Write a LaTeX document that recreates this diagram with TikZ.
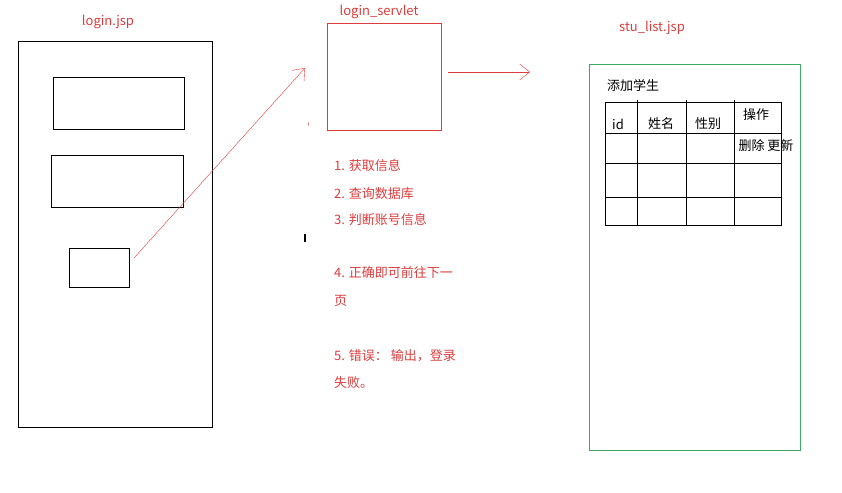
\documentclass[tikz,border=0pt]{standalone}
\usepackage{fontspec}
\setmainfont{Noto Sans CJK SC}
\usetikzlibrary{positioning,arrows.meta}
\definecolor{penred}{RGB}{220,60,60}
\definecolor{pengreen}{RGB}{60,170,100}
\begin{document}
\begin{tikzpicture}[
	x=1pt,y=-1pt,
	lbl/.style={text=penred,font=\fontsize{13}{15}\selectfont},
	stepline/.style={lbl,anchor=west,inner sep=0},
	barb/.style={penred,-{Straight Barb[length=10pt,width=16pt]}},
	cell/.style={font=\fontsize{13}{15}\selectfont,inner sep=0}
]
	\useasboundingbox (0,0) rectangle (842,492);
	% login page
	\draw (18,41) rectangle (212,427);
	\draw (53,77) rectangle (184,129);
	\draw (51,155) rectangle (183,207);
	\draw (69,248) rectangle (129,287);
	\node[lbl] (loginjsp) at (108,22) {login.jsp};
	\coordinate (btn) at (134,258);
	\coordinate (up) at (305,68);
	\draw[barb] (btn) -- (up);

	% servlet
	\node[lbl] (servletlbl) at (379,12) {login\_servlet};
	\draw[penred] (327,23) rectangle (441,130);
	\coordinate (s1) at (448,72);
	\coordinate (s2) at (530,72);
	\draw[barb] (s1) -- (s2);
	\draw[penred] (308,122) -- (309,126);
	\draw[very thick] (305,234) -- (305,242);
	\node[stepline] (t1) at (334,166) {1. 获取信息};
	\node[stepline] (t2) at (334,194) {2. 查询数据库};
	\node[stepline] (t3) at (334,220) {3. 判断账号信息};
	\node[stepline] (t4) at (334,273) {4. 正确即可前往下一};
	\node[stepline] (t4b) at (334,301) {页};
	\node[stepline] (t5) at (334,356) {5. 错误：  输出，登录};
	\node[stepline] (t5b) at (334,383) {失败。};

	% list page
	\node[lbl] (listjsp) at (652,28) {stu\_list.jsp};
	\draw[pengreen] (589,64) rectangle (800,450);
	\node[cell,anchor=west] (addstu) at (607,86) {添加学生};
	\draw (605,102) rectangle (781,225);
	\foreach \x in {637,686,734}
		\draw (\x,100) -- (\x,225);
	\foreach \y in {133,163,197}
		\draw (605,\y) -- (781,\y);
	\node[cell] (cid) at (618,124) {id};
	\node[cell] (cname) at (661,124) {姓名};
	\node[cell] (csex) at (708,124) {性别};
	\node[cell] (cop) at (756,115) {操作};
	\node[cell] (cact) at (766,146) {删除\ 更新};
\end{tikzpicture}
\end{document}
